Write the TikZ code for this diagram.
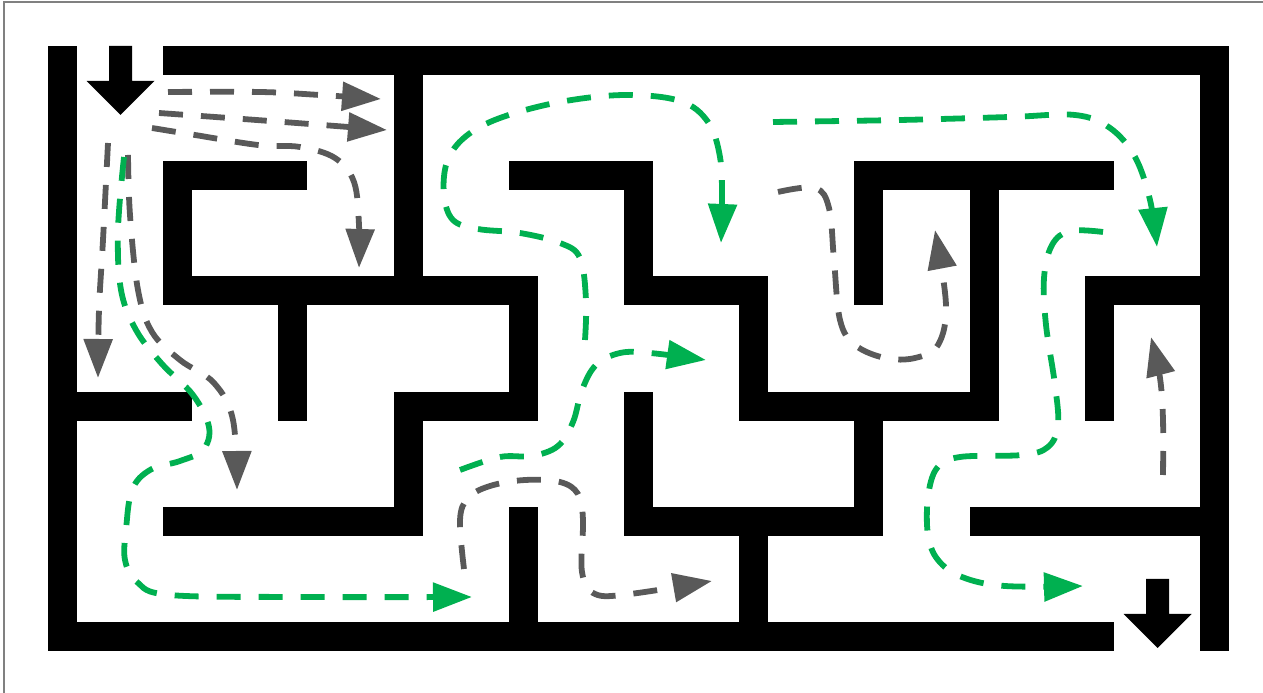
\documentclass[tikz,border=0pt]{standalone}
\usepackage{tikz}
\usetikzlibrary{arrows.meta}
\definecolor{mGrey}{HTML}{595959}
\definecolor{mGreen}{HTML}{00B050}
\definecolor{mFrame}{HTML}{808080}

\begin{document}
\begin{tikzpicture}[
    x=0.1mm, y=-0.1mm,
    wall/.style={line width=2.9mm, line cap=rect, line join=miter},
    gate/.style={fill=black},
    trail/.style={line width=0.58mm, dash pattern=on 2.4mm off 1.8mm,
        -{Triangle[length=3.9mm, width=2.8mm]}},
    greytrail/.style={trail, draw=mGrey},
    greentrail/.style={trail, draw=mGreen},
]
    \useasboundingbox (0,0) rectangle (1263,693);
    \draw[mFrame, line width=0.2mm] (4,693) -- (4,2) -- (1263,2);

    % 迷宫墙体（格点坐标）
    \begin{scope}[shift={(62.5,60.5)}, x=11.52mm, y=-11.52mm]
        \draw[wall] (1,0) -- (10,0) -- (10,5);
        \draw[wall] (0,0) -- (0,5) -- (9,5);
        \draw[wall] (3,0) -- (3,2);
        \draw[wall] (2,1) -- (1,1) -- (1,2) -- (4,2) -- (4,3) -- (3,3) -- (3,4) -- (1,4);
        \draw[wall] (2,2) -- (2,3);
        \draw[wall] (0,3) -- (1,3);
        \draw[wall] (4,4) -- (4,5);
        \draw[wall] (4,1) -- (5,1) -- (5,2) -- (6,2) -- (6,3) -- (8,3) -- (8,1);
        \draw[wall] (7,2) -- (7,1) -- (9,1);
        \draw[wall] (5,3) -- (5,4) -- (7,4) -- (7,3);
        \draw[wall] (6,4) -- (6,5);
        \draw[wall] (10,2) -- (9,2) -- (9,3);
        \draw[wall] (8,4) -- (10,4);
    \end{scope}

    % 入口与出口
    \fill[gate] (109,46) -- ++(23,0) -- ++(0,35) -- ++(22.5,0) -- ++(-34,34) -- ++(-34,-34) -- ++(22.5,0) -- cycle;
    \fill[gate] (1146,579) -- ++(23,0) -- ++(0,35) -- ++(22.5,0) -- ++(-34,34) -- ++(-34,-34) -- ++(22.5,0) -- cycle;

    % 路径端点
    \coordinate (grey1s) at (168,92);   \coordinate (grey1e) at (381,99);
    \coordinate (grey2s) at (159,113);  \coordinate (grey2e) at (387,130);
    \coordinate (grey3s) at (152,128);  \coordinate (grey3e) at (359,268);
    \coordinate (grey4s) at (108,143);  \coordinate (grey4e) at (98,378);
    \coordinate (grey5s) at (128,155);  \coordinate (grey5e) at (237,490);
    \coordinate (grey6s) at (464,569);  \coordinate (grey6e) at (712,581);
    \coordinate (grey7s) at (778,192);  \coordinate (grey7e) at (935,230);
    \coordinate (grey8s) at (1163,475); \coordinate (grey8e) at (1151,337);
    \coordinate (green1s) at (124,157); \coordinate (green1e) at (472,597);
    \coordinate (green2s) at (460,470); \coordinate (green2e) at (706,360);
    \coordinate (green3s) at (585,340); \coordinate (green3e) at (721,243);
    \coordinate (green4s) at (773,122); \coordinate (green4e) at (1157,247);
    \coordinate (green5s) at (1103,232); \coordinate (green5e) at (1083,586);

    % 灰色：死路
    \draw[greytrail] plot[smooth, tension=0.6] coordinates {(grey1s) (260,92) (320,95) (grey1e)};
    \draw[greytrail] plot[smooth, tension=0.6] coordinates {(grey2s) (270,121) (grey2e)};
    \draw[greytrail] plot[smooth, tension=0.6] coordinates {(grey3s) (195,135) (258,145) (300,147)
        (335,158) (354,182) (359,225) (grey3e)};
    \draw[greytrail] plot[smooth, tension=0.6] coordinates {(grey4s) (103,240) (99,310) (grey4e)};
    \draw[greytrail] plot[smooth, tension=0.6] coordinates {(grey5s) (130,215) (138,290) (152,332)
        (180,360) (214,383) (233,420) (grey5e)};
    \draw[greytrail] plot[smooth, tension=0.6] coordinates {(grey6s) (460,520) (468,498) (490,486)
        (525,480) (560,482) (578,494) (583,520) (582,572) (595,594) (630,594) (grey6e)};
    \draw[greytrail] plot[smooth, tension=0.6] coordinates {(grey7s) (815,188) (829,208) (834,260)
        (840,320) (855,345) (885,358) (915,358) (938,345) (946,305) (grey7e)};
    \draw[greytrail] plot[smooth, tension=0.6] coordinates {(grey8s) (1163,420) (1160,378) (grey8e)};

    % 绿色：通路
    \draw[greentrail] plot[smooth, tension=0.6] coordinates {(green1s) (118,230) (121,290) (136,330)
        (162,364) (193,395) (209,427) (203,450) (180,461) (150,470) (132,490) (126,530)
        (125,560) (137,582) (170,595) (300,597) (green1e)};
    \draw[greentrail] plot[smooth, tension=0.6] coordinates {(green2s) (500,457) (532,456) (558,446)
        (573,422) (582,390) (596,365) (620,353) (650,353) (green2e)};
    \draw[greentrail] plot[smooth, tension=0.6] coordinates {(green3s) (586,300) (580,258) (560,243)
        (520,233) (478,229) (453,220) (444,195) (447,162) (465,137) (500,118) (560,102)
        (625,95) (680,101) (708,122) (720,157) (722,200) (green3e)};
    \draw[greentrail] plot[smooth, tension=0.6] coordinates {(green4s) (900,120) (1010,117) (1075,115)
        (1110,128) (1135,157) (1150,200) (green4e)};
    \draw[greentrail] plot[smooth, tension=0.6] coordinates {(green5s) (1070,231) (1052,245) (1044,278)
        (1046,325) (1055,385) (1058,425) (1048,447) (1022,455) (960,457) (937,468) (928,497)
        (928,535) (938,560) (962,577) (1005,586) (green5e)};
\end{tikzpicture}
\end{document}
